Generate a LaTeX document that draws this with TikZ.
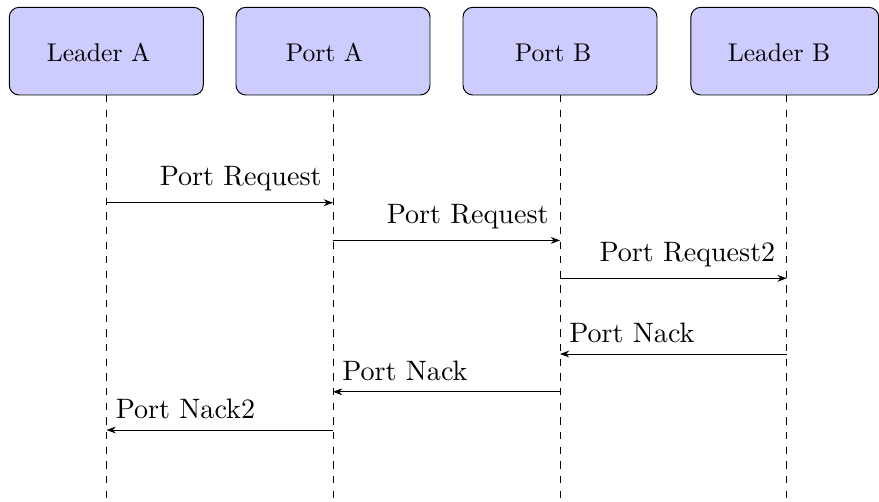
\documentclass[tikz,border=0pt]{standalone}
\usepackage{fontspec}
\newfontfamily\lblfont{lmroman10-regular}[Extension=.otf]
\usetikzlibrary{arrows.meta}
\begin{document}
\begin{tikzpicture}[x=0.40955pt, y=-0.40955pt]
\tikzset{
  actor/.style={draw=black, line width=0.4pt, fill=blue!20, rounded corners=4pt,
    minimum width=79.45pt, minimum height=35.9pt, inner sep=0pt,
    text height=8.3pt, text depth=0pt, font=\fontsize{10.5}{12}\selectfont},
  lifeline/.style={dashed, line width=0.4pt},
  msg/.style={-{Stealth[length=3.8pt,width=2.8pt]}, line width=0.4pt},
  msglbl/.style={inner ysep=4.5pt, font=\lblfont\fontsize{11.5}{14}\selectfont},
  fwdlbl/.style={msglbl, anchor=south east, inner xsep=4.5pt},
  bwdlbl/.style={msglbl, anchor=south west, inner xsep=3.6pt},
}
\useasboundingbox (0,0) rectangle (879,501);

% participants (a trailing gap keeps each name a little left of centre)
\node[actor] (LA) at (106.3,51.15) {Leader A\hspace{6.3pt}\null};
\node[actor] (PA) at (333,51.15) {Port A\hspace{7pt}\null};
\node[actor] (PB) at (560,51.15) {Port B\hspace{5.7pt}\null};
\node[actor, minimum width=76.9pt] (LB) at (784.8,51.15) {Leader B\hspace{4.7pt}\null};

% lifeline tops and the bottom edge
\coordinate (la) at (106.5,95);
\coordinate (pa) at (333,95);
\coordinate (pb) at (560,95);
\coordinate (lb) at (786.7,95);
\coordinate (bot) at (0,501);

\foreach \l in {la,pa,pb,lb}
  \draw[lifeline] (\l) -- (\l |- bot);

% message rows
\coordinate (r1) at (0,202.7);
\coordinate (r2) at (0,240.4);
\coordinate (r3) at (0,278.3);
\coordinate (r4) at (0,354);
\coordinate (r5) at (0,391.8);
\coordinate (r6) at (0,430);

\draw[msg] (la |- r1) -- (pa |- r1) node[fwdlbl] {Port Request};
\draw[msg] (pa |- r2) -- (pb |- r2) node[fwdlbl] {Port Request};
\draw[msg] (pb |- r3) -- (lb |- r3) node[fwdlbl] {Port Request2};
\draw[msg] (lb |- r4) -- (pb |- r4) node[bwdlbl] {Port Nack};
\draw[msg] (pb |- r5) -- (pa |- r5) node[bwdlbl] {Port Nack};
\draw[msg] (pa |- r6) -- (la |- r6) node[bwdlbl] {Port Nack2};
\end{tikzpicture}
\end{document}
